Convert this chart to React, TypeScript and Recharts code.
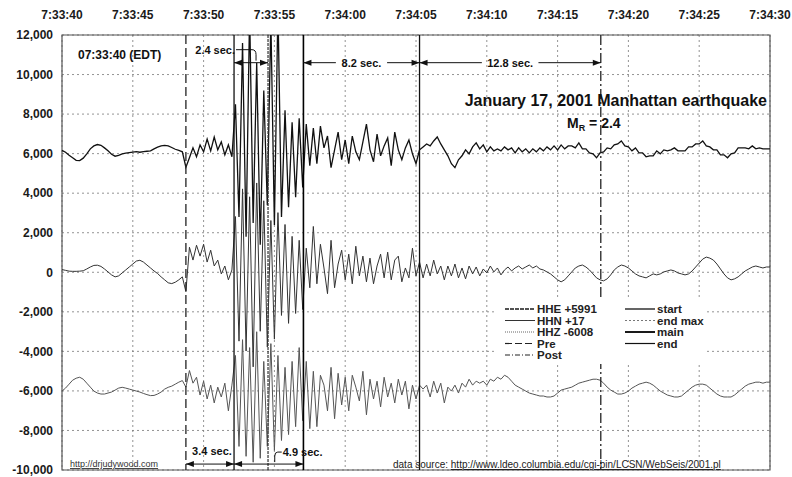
import React from "react";
import { LineChart, Line, XAxis, YAxis, CartesianGrid, ReferenceLine, ReferenceArea, Legend } from "recharts";

// seconds after 7:33:00, one sample every quarter second
const START_SEC = 40;
const STEP_SEC = 0.25;

const timeTicks = [40, 45, 50, 55, 60, 65, 70, 75, 80, 85, 90];
const timeTickLabels = ["7:33:40", "7:33:45", "7:33:50", "7:33:55", "7:34:00", "7:34:05", "7:34:10", "7:34:15", "7:34:20", "7:34:25", "7:34:30"];
const countTicks = [-10000, -8000, -6000, -4000, -2000, 0, 2000, 4000, 6000, 8000, 10000, 12000];

// channel offsets, as given in the legend
const HHE_OFFSET = 5991;
const HHN_OFFSET = 17;
const HHZ_OFFSET = -6008;

// raw counts (4 samples per second, 7:33:40 .. 7:34:30)
const hheRaw = [
  170, 80, -70, -200,
  -330, -340, -220, 0,
  250, 400, 470, 430,
  300, 150, -20, -120,
  -80, 0, 30, 60,
  90, 110, 80, 110,
  130, 150, 250, 340,
  400, 430, 400, 320,
  230, 170, 100, -680,
  -200, 300, -150, 450,
  100, 750, 150, 850,
  200, 600, -50, 450,
  -150, 2500, -3200, 5600,
  -4200, 7200, -3500, 4600,
  -4600, 3200, -2600, 6800,
  -3600, 7400, -3200, 2200,
  -2700, 1600, -2200, 1800,
  -1700, 1500, -600, 1300,
  -500, 1400, 300, 900,
  -700, 200, 1100, -300,
  700, -500, 900, 100,
  -300, 600, 1500, 200,
  -400, 1000, -100, 400,
  800, -600, 1100, 200,
  -300, 300, 700, 0,
  -500, 200, 350, 500,
  400, 650, 850, 500,
  200, -100, -500, -700,
  -300, -100, 200, 0,
  350, 550, 250, 450,
  100, 350, 150, 250,
  150, 350, 200, 300,
  50, 300, 100, 250,
  50, 250, 100, 300,
  150, 350, 200, 400,
  200, 450, 250, 400,
  400, 300, 550, 250,
  250, 50, 0, -200,
  50, 100, 300, 250,
  450, 500, 650, 400,
  350, 150, 300, 50,
  50, -150, -100, -100,
  150, 0, 200, 150,
  200, 300, 150, 150,
  150, 350, 350, 500,
  500, 650, 400, 350,
  200, 200, -50, -50,
  -200, 0, 50, 300,
  300, 300, 250, 400,
  250, 300, 250, 250,
  250,
];

const hhnRaw = [
  120, 80, 40, 30,
  30, 40, 60, 150,
  250, 330, 340, 280,
  150, 0, -150, -250,
  -200, -50, 100, 250,
  400, 550, 590, 500,
  350, 200, 50, -80,
  -250, -400, -550, -590,
  -520, -400, -250, -1000,
  1250, 600, 1350, 800,
  1400, 500, 1100, 300,
  600, -100, 300, -400,
  100, 2800, -3500, 4200,
  -4000, 3800, -4800, 4500,
  -3000, 3600, -3800, 2600,
  -3400, 3000, -2200, 2400,
  -2600, 1800, -2100, 1600,
  -1900, 1200, -800, 2300,
  -600, 1400, 200, -1100,
  1600, -800, 400, 1100,
  -400, 900, -600, 1300,
  -200, 800, -500, 700,
  -600, 300, 900, -300,
  1000, -400, 600, 800,
  -500, 200, -300, 1200,
  -200, 500, -300, 400,
  -200, 600, -100, 300,
  -400, 300, -200, 400,
  -300, 200, -350, 300,
  -100, 250, -200, 150,
  -50, 300, 0, 200,
  -150, 100, 250, 50,
  200, 300, 150, 250,
  350, 200, 300, 150,
  100, 0, -100, -250,
  -400, -500, -400, -200,
  0, 200, 300, 350,
  250, 100, -100, -300,
  -400, -450, -350, -150,
  100, 250, 350, 300,
  200, 50, -100, -200,
  -250, -300, -200, -100,
  -150, -100, 0, 50,
  100, 50, -50, -100,
  -150, -100, 50, 250,
  450, 650, 750, 700,
  600, 400, 150, -100,
  -300, -400, -350, -250,
  -100, 50, 150, 250,
  300, 250, 200, 250,
  250,
];

const hhzRaw = [
  0, 150, 350, 550,
  650, 700, 600, 400,
  200, 0, -100, -150,
  -150, -100, -50, 50,
  150, 190, 150, 100,
  50, 0, -50, -120,
  -180, -230, -220, -150,
  -50, 100, 190, 250,
  350, 450, 530, 200,
  1040, 400, 700, -200,
  500, -400, 300, -600,
  200, -300, 400, -1000,
  300, 1800, -2800, 2600,
  -3300, 2200, -3600, 3000,
  -3400, 1500, -2800, 2400,
  -3000, 1800, -2500, 1200,
  -2200, 1500, -1800, 2200,
  -1500, 1500, -1900, 1000,
  -1800, 800, 300, -1000,
  1200, -1400, 900, -700,
  700, -1000, 800, 200,
  -500, 1000, -1200, 600,
  -400, 500, -800, 700,
  -300, 400, -600, 600,
  -200, 500, -900, 300,
  -400, 300, 100, 300,
  -300, 500, -100, 400,
  -600, 200, 0, 300,
  -100, 400, 200, 600,
  300, 500, 400, 500,
  300, 600, 500, 700,
  600, 800, 700, 500,
  300, 200, 100, 0,
  -100, -150, -200, -250,
  -250, -300, -300, -250,
  -100, 50, 100, 150,
  200, 300, 400, 450,
  500, 550, 600, 600,
  550, 400, 200, 50,
  -50, -150, -150, -100,
  0, 150, 250, 350,
  400, 450, 400, 300,
  150, 0, -100, -200,
  -250, -300, -300, -250,
  -100, 50, 200, 300,
  350, 350, 300, 150,
  0, -150, -250, -300,
  -300, -300, -200, -50,
  100, 250, 350, 400,
  450, 450, 400, 450,
  450,
];

// marker times (seconds after 7:33:00)
const PRE_T = 48.75;
const START_T = 52.15;
const END_MAX_T = 54.55;
const MAIN_T = 57.05;
const END_T = 65.25;
const POST_T = 78.05;

const data = hheRaw.map((v, i) => ({
  t: START_SEC + i * STEP_SEC,
  hhe: v + HHE_OFFSET,
  hhn: hhnRaw[i] + HHN_OFFSET,
  hhz: hhzRaw[i] + HHZ_OFFSET,
}));

const FONT = '"Liberation Sans", Arial, sans-serif';

const fmtTime = (v: number) => timeTickLabels[timeTicks.indexOf(v)] ?? "";
const fmtCount = (v: number) => v.toLocaleString("en-US");

// double-headed arrow drawn between the segment end points
function Arrow(props: any) {
  const { x1, y1, x2, text, mode } = props;
  const y = y1;
  const L = 8, W = 3;
  const mid = (x1 + x2) / 2;
  const tw = text ? text.length * 5.4 : 0;
  const heads = (
    <>
      <path d={`M${x1},${y} L${x1 + L},${y - W} L${x1 + L},${y + W} Z`} fill="#111" />
      <path d={`M${x2},${y} L${x2 - L},${y - W} L${x2 - L},${y + W} Z`} fill="#111" />
    </>
  );
  const txt = { fontFamily: FONT, fontSize: 11, fontWeight: 700, fill: "#111" };
  if (mode === "center") {
    return (
      <g>
        <line x1={x1} y1={y} x2={mid - tw / 2 - 4} y2={y} stroke="#111" strokeWidth={1} />
        <line x1={mid + tw / 2 + 4} y1={y} x2={x2} y2={y} stroke="#111" strokeWidth={1} />
        {heads}
        <text x={mid} y={y + 4} textAnchor="middle" {...txt}>{text}</text>
      </g>
    );
  }
  if (mode === "above") {
    return (
      <g>
        <line x1={x1} y1={y} x2={x2} y2={y} stroke="#111" strokeWidth={1} />
        {heads}
        <text x={mid + 2} y={y - 9} textAnchor="middle" {...txt}>{text}</text>
      </g>
    );
  }
  if (mode === "hookRight") {
    return (
      <g>
        <line x1={x1} y1={y} x2={x2} y2={y} stroke="#111" strokeWidth={1} />
        {heads}
        <path d={`M${mid + 13},${y - 12} L${mid + 9},${y - 12} Q${mid + 6},${y - 12} ${mid + 6},${y - 8} L${mid + 6},${y - 2}`} fill="none" stroke="#111" strokeWidth={1} />
        <text x={mid + 14} y={y - 8} textAnchor="start" {...txt}>{text}</text>
      </g>
    );
  }
  // hookLeft
  return (
    <g>
      <line x1={x1} y1={y} x2={x2} y2={y} stroke="#111" strokeWidth={1} />
      {heads}
      <path d={`M${x1 + 2},${y - 13} L${mid + 1},${y - 13} Q${mid + 5},${y - 13} ${mid + 5},${y - 8} L${mid + 5},${y - 2}`} fill="none" stroke="#111" strokeWidth={1} />
      <text x={x1 + 1} y={y - 9} textAnchor="end" {...txt}>{text}</text>
    </g>
  );
}

const legendLeft = [
  { name: "HHE +5991", color: "#1a1a1a", dash: "4 1", width: 1.4 },
  { name: "HHN +17", color: "#333", dash: "", width: 1 },
  { name: "HHZ -6008", color: "#666", dash: "1 1", width: 1 },
  { name: "Pre", color: "#222", dash: "7 3", width: 1.2 },
  { name: "Post", color: "#222", dash: "5 2 1 2", width: 1.2 },
];
const legendRight = [
  { name: "start", color: "#111", dash: "", width: 1.3 },
  { name: "end max", color: "#777", dash: "2 2", width: 1.2 },
  { name: "main", color: "#000", dash: "", width: 1.8 },
  { name: "end", color: "#111", dash: "", width: 1.2 },
];

function LegendBox() {
  const row = (it: any, i: number, x0: number) => (
    <g key={it.name}>
      <line x1={x0} y1={9 + i * 11.5} x2={x0 + 30} y2={9 + i * 11.5} stroke={it.color} strokeWidth={it.width} strokeDasharray={it.dash || undefined} />
      <text x={x0 + 32} y={13 + i * 11.5} fontFamily={FONT} fontSize={11.5} fontWeight={700} fill="#222">{it.name}</text>
    </g>
  );
  return (
    <svg width={210} height={64} style={{ display: "block", background: "#fff" }}>
      {legendLeft.map((it, i) => row(it, i, 10))}
      {legendRight.map((it, i) => row(it, i, 130))}
    </svg>
  );
}

export default function App() {
  return (
    <div style={{ position: "absolute", left: 0, top: 0, width: 792, height: 477, background: "#fff" }}>
      <LineChart width={792} height={477} data={data} margin={{ top: 5, right: 22, bottom: 7, left: 0 }}>
        <CartesianGrid stroke="#777" strokeDasharray="2 3" strokeWidth={0.8} />
        <XAxis
          dataKey="t"
          type="number"
          orientation="top"
          domain={[40, 90]}
          ticks={timeTicks}
          interval={0}
          tickFormatter={fmtTime}
          allowDataOverflow
          height={30}
          axisLine={false}
          tickLine={false}
          tickSize={0}
          tickMargin={16}
          tick={{ fontFamily: FONT, fontSize: 12, fontWeight: 700, fill: "#1a1a1a" }}
        />
        <YAxis
          type="number"
          domain={[-10000, 12000]}
          ticks={countTicks}
          interval={0}
          tickFormatter={fmtCount}
          allowDataOverflow
          width={62}
          axisLine={false}
          tickLine={false}
          tickSize={0}
          tickMargin={9}
          tick={{ fontFamily: FONT, fontSize: 12, fontWeight: 700, fill: "#1a1a1a" }}
        />
        <ReferenceArea x1={40} x2={90} y1={-10000} y2={12000} fill="none" stroke="#555" strokeWidth={1.2} />
        <Line dataKey="hhz" type="linear" stroke="#555" strokeWidth={1} dot={false} isAnimationActive={false} />
        <Line dataKey="hhn" type="linear" stroke="#333" strokeWidth={1} dot={false} isAnimationActive={false} />
        <Line dataKey="hhe" type="linear" stroke="#111" strokeWidth={1.3} dot={false} isAnimationActive={false} />
        <ReferenceLine x={PRE_T} stroke="#222" strokeWidth={1.3} strokeDasharray="9 4" />
        <ReferenceLine x={START_T} stroke="#111" strokeWidth={1.3} />
        <ReferenceLine x={END_MAX_T} stroke="#333" strokeWidth={1.2} strokeDasharray="3 1" />
        <ReferenceLine x={MAIN_T} stroke="#000" strokeWidth={1.6} />
        <ReferenceLine x={END_T} stroke="#111" strokeWidth={1.3} />
        <ReferenceLine x={POST_T} stroke="#222" strokeWidth={1.3} strokeDasharray="10 3 2 3" />
        <ReferenceLine segment={[{ x: START_T, y: 10600 }, { x: END_MAX_T, y: 10600 }]} shape={(p: any) => <Arrow {...p} text="2.4 sec." mode="hookLeft" />} />
        <ReferenceLine segment={[{ x: MAIN_T, y: 10600 }, { x: END_T, y: 10600 }]} shape={(p: any) => <Arrow {...p} text="8.2 sec." mode="center" />} />
        <ReferenceLine segment={[{ x: END_T, y: 10600 }, { x: POST_T, y: 10600 }]} shape={(p: any) => <Arrow {...p} text="12.8 sec." mode="center" />} />
        <ReferenceLine segment={[{ x: PRE_T, y: -9700 }, { x: START_T, y: -9700 }]} shape={(p: any) => <Arrow {...p} text="3.4 sec." mode="above" />} />
        <ReferenceLine segment={[{ x: START_T, y: -9700 }, { x: MAIN_T, y: -9700 }]} shape={(p: any) => <Arrow {...p} text="4.9 sec." mode="hookRight" />} />
        <Legend
          layout="horizontal"
          verticalAlign="middle"
          align="center"
          content={() => <LegendBox />}
          wrapperStyle={{ left: 495, top: 300, width: 210, height: 64 }}
        />
      </LineChart>
      <svg width={792} height={477} style={{ position: "absolute", left: 0, top: 0, pointerEvents: "none" }}>
        <text x={78} y={59} fontFamily={FONT} fontSize={12} fontWeight={700} fill="#111">07:33:40 (EDT)</text>
        <text x={767} y={106} textAnchor="end" fontFamily={FONT} fontSize={16} fontWeight={700} fill="#111">January 17, 2001 Manhattan earthquake</text>
        <text x={567} y={128} fontFamily={FONT} fontSize={14} fontWeight={700} fill="#111">
          M<tspan fontSize={9} dy={3}>R</tspan><tspan dy={-3}> = 2.4</tspan>
        </text>
        <text x={70} y={467} fontFamily={FONT} fontSize={9} fill="#333" textDecoration="underline">http://drjudywood.com</text>
        <text x={393} y={468} fontFamily={FONT} fontSize={10} fill="#222">
          data source: <tspan textDecoration="underline">http://www.ldeo.columbia.edu/cgi-bin/LCSN/WebSeis/2001.pl</tspan>
        </text>
      </svg>
    </div>
  );
}
